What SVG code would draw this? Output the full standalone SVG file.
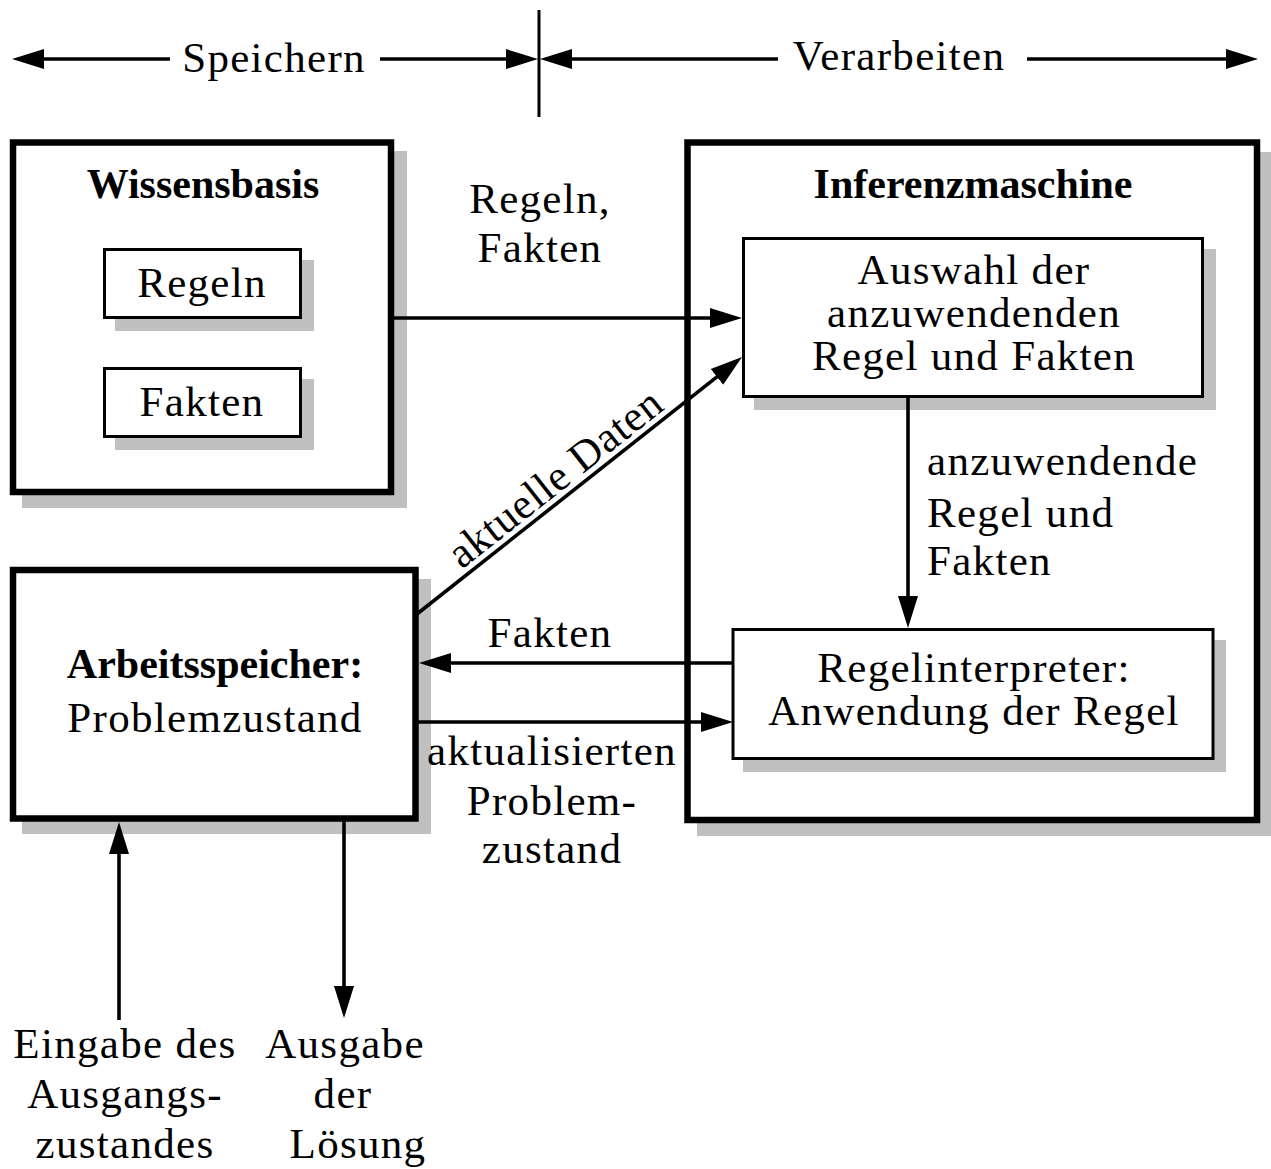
<svg xmlns="http://www.w3.org/2000/svg" width="1271" height="1169" viewBox="0 0 1271 1169">
  <style>
    text { font-family: "Liberation Serif", "Times New Roman", serif; font-size: 43px; letter-spacing: 1.3px; fill: #000; }
    .c { text-anchor: middle; }
    .b { font-weight: bold; letter-spacing: 0; font-size: 42px; }
    .shadow { fill: #c0c0c0; stroke: none; }
    .outer { fill: #fff; stroke: #000; stroke-width: 6.5; }
    .inner { fill: #fff; stroke: #000; stroke-width: 3; }
    .conn { fill: none; stroke: #000; stroke-width: 3.6; }
  </style>
  <defs>
    <marker id="arrow" markerUnits="userSpaceOnUse" markerWidth="34" markerHeight="24" viewBox="-2 -12 34 24" refX="0" refY="0" orient="auto">
      <path d="M-2,-10 L30,0 L-2,10 z" fill="#000"/>
    </marker>
  </defs>

  <rect width="1271" height="1169" fill="#fff"/>

  <!-- header: Speichern | Verarbeiten -->
  <g id="header">
    <line x1="539" y1="10" x2="539" y2="117" stroke="#000" stroke-width="3"/>
    <line class="conn" x1="170" y1="59" x2="42" y2="59" marker-end="url(#arrow)"/>
    <line class="conn" x1="380" y1="59" x2="508" y2="59" marker-end="url(#arrow)"/>
    <line class="conn" x1="778" y1="59" x2="570" y2="59" marker-end="url(#arrow)"/>
    <line class="conn" x1="1027" y1="59" x2="1228" y2="59" marker-end="url(#arrow)"/>
    <text class="c" x="274" y="72">Speichern</text>
    <text class="c" x="899" y="70">Verarbeiten</text>
  </g>

  <!-- knowledge base -->
  <g id="wissensbasis">
    <rect class="shadow" x="22" y="151" width="385" height="357"/>
    <rect class="outer" x="13" y="142.5" width="378" height="349.5"/>
    <text class="c b" x="203" y="198">Wissensbasis</text>
  </g>
  <g id="regeln">
    <rect class="shadow" x="115" y="260" width="199" height="71"/>
    <rect class="inner" x="104.5" y="249.5" width="196" height="68"/>
    <text class="c" x="202" y="297">Regeln</text>
  </g>
  <g id="fakten">
    <rect class="shadow" x="115" y="379" width="199" height="71"/>
    <rect class="inner" x="104.5" y="368.5" width="196" height="68"/>
    <text class="c" x="202" y="416">Fakten</text>
  </g>

  <!-- inference engine -->
  <g id="inferenzmaschine">
    <rect class="shadow" x="697" y="152" width="576" height="684"/>
    <rect class="outer" x="687.5" y="142.5" width="569.5" height="677.5"/>
    <text class="c b" x="973" y="198">Inferenzmaschine</text>
  </g>
  <g id="auswahl">
    <rect class="shadow" x="754" y="249" width="462" height="161"/>
    <rect class="inner" x="743.5" y="238.5" width="459" height="158"/>
    <text class="c" x="974" y="284">Auswahl der</text>
    <text class="c" x="974" y="327">anzuwendenden</text>
    <text class="c" x="974" y="370">Regel und Fakten</text>
  </g>
  <g id="regelinterpreter">
    <rect class="shadow" x="743" y="640" width="483" height="132"/>
    <rect class="inner" x="733" y="629.5" width="480" height="129"/>
    <text class="c" x="974" y="682">Regelinterpreter:</text>
    <text class="c" x="974" y="725">Anwendung der Regel</text>
  </g>

  <!-- working memory -->
  <g id="arbeitsspeicher">
    <rect class="shadow" x="22" y="579" width="409" height="255"/>
    <rect class="outer" x="13" y="570" width="402.5" height="248.5"/>
    <text class="c b" x="215" y="678">Arbeitsspeicher:</text>
    <text class="c" x="215" y="732">Problemzustand</text>
  </g>

  <!-- connectors -->
  <g id="connectors">
    <line class="conn" x1="394" y1="318" x2="712" y2="318" marker-end="url(#arrow)"/>
    <line class="conn" x1="417" y1="614" x2="718.5" y2="375.6" marker-end="url(#arrow)"/>
    <line class="conn" x1="908" y1="398" x2="908" y2="598" marker-end="url(#arrow)"/>
    <line class="conn" x1="733" y1="663" x2="449" y2="663" marker-end="url(#arrow)"/>
    <line class="conn" x1="417" y1="722" x2="703" y2="722" marker-end="url(#arrow)"/>
    <line class="conn" x1="119" y1="1020" x2="119" y2="852" marker-end="url(#arrow)"/>
    <line class="conn" x1="344" y1="821" x2="344" y2="988" marker-end="url(#arrow)"/>
  </g>

  <!-- connector labels -->
  <g id="labels">
    <text class="c" x="540" y="213">Regeln,</text>
    <text class="c" x="540" y="262">Fakten</text>
    <text class="c" transform="translate(564 489) rotate(-38.3)" x="0" y="0" style="letter-spacing:0.8px">aktuelle Daten</text>
    <text x="927" y="475">anzuwendende</text>
    <text x="927" y="527">Regel und</text>
    <text x="927" y="575">Fakten</text>
    <text class="c" x="550" y="647">Fakten</text>
    <text class="c" x="552" y="765">aktualisierten</text>
    <text class="c" x="552" y="815">Problem-</text>
    <text class="c" x="552" y="863">zustand</text>
    <text class="c" x="125" y="1058">Eingabe des</text>
    <text class="c" x="125" y="1108">Ausgangs-</text>
    <text class="c" x="125" y="1158">zustandes</text>
    <text class="c" x="345" y="1058">Ausgabe</text>
    <text class="c" x="343" y="1108">der</text>
    <text class="c" x="358" y="1158">Lösung</text>
  </g>
</svg>
